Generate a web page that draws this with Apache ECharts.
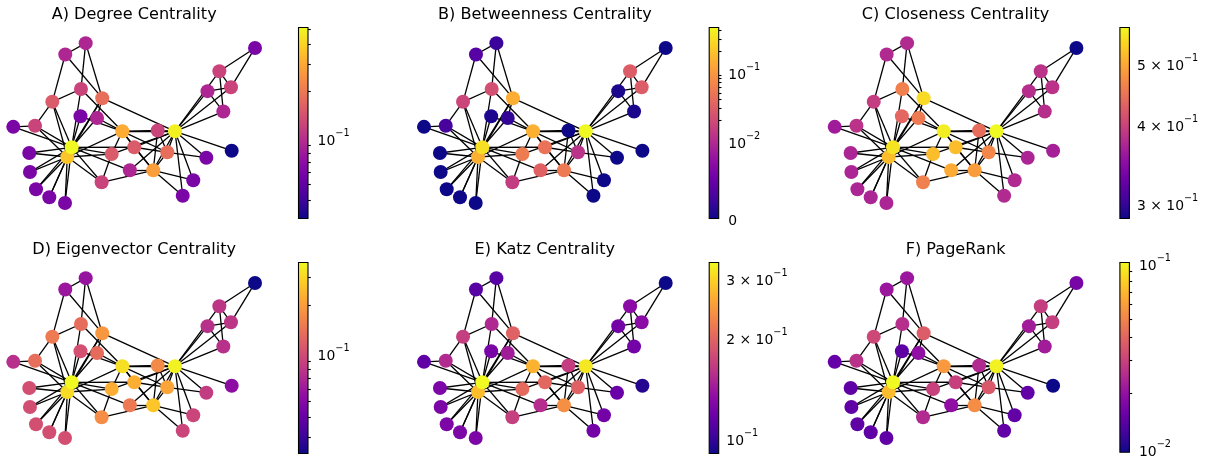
<!DOCTYPE html>
<html>
<head>
<meta charset="utf-8">
<script src="https://cdn.jsdelivr.net/npm/echarts@6/dist/echarts.min.js"></script>
<style>
  html, body { margin: 0; padding: 0; background: #fff; }
  #chart { width: 1206px; height: 459px; }
</style>
</head>
<body>
<div id="chart"></div>
<script>
// Zachary's karate club: 34 members, 78 ties, spring-layout positions
const nodeX = [0.338,0.158,-0.098,0.274,0.607,0.705,0.801,0.195,-0.186,-0.444,0.738,0.807,0.597,0.001,-0.868,-0.862,1.000,0.489,-0.812,-0.036,-0.702,0.402,-0.572,-0.677,-0.401,-0.570,-1.000,-0.440,-0.307,-0.820,-0.269,-0.264,-0.553,-0.517];
const nodeY = [-0.104,-0.591,-0.104,-0.366,0.398,0.646,0.446,-0.094,-0.388,0.084,0.143,-0.346,-0.434,-0.303,-0.375,-0.613,0.938,-0.715,-0.829,-0.591,-0.929,-0.909,-1.000,0.265,0.998,0.856,-0.048,0.425,0.063,-0.035,-0.741,0.310,-0.425,-0.304];

const edges = [
  [0,1],[0,2],[0,3],[0,4],[0,5],[0,6],[0,7],[0,8],[0,10],[0,11],[0,12],[0,13],[0,17],[0,19],[0,21],[0,31],
  [1,2],[1,3],[1,7],[1,13],[1,17],[1,19],[1,21],[1,30],
  [2,3],[2,7],[2,8],[2,9],[2,13],[2,27],[2,28],[2,32],
  [3,7],[3,12],[3,13],[4,6],[4,10],[5,6],[5,10],[5,16],[6,16],
  [8,30],[8,32],[8,33],[9,33],[13,33],[14,32],[14,33],[15,32],[15,33],
  [18,32],[18,33],[19,33],[20,32],[20,33],[22,32],[22,33],
  [23,25],[23,27],[23,29],[23,32],[23,33],[24,25],[24,27],[24,31],[25,31],
  [26,29],[26,33],[27,33],[28,31],[28,33],[29,32],[29,33],[30,32],[30,33],
  [31,32],[31,33],[32,33]
];

const panelTitles = [
  'A) Degree Centrality', 'B) Betweenness Centrality', 'C) Closeness Centrality',
  'D) Eigenvector Centrality', 'E) Katz Centrality', 'F) PageRank'
];

// centrality of each member, indexed like nodeX / nodeY
const degreeValues = [0.4848,0.2727,0.3030,0.1818,0.0909,0.1212,0.1212,0.1212,0.1515,0.0606,0.0909,0.0303,0.0606,0.1515,0.0606,0.0606,0.0606,0.0606,0.0606,0.0909,0.0606,0.0606,0.0606,0.1515,0.0909,0.0909,0.0606,0.1212,0.0909,0.1212,0.1212,0.1818,0.3636,0.5152];
const betweennessValues = [0.4376,0.0539,0.1437,0.0119,0.0006,0.0300,0.0300,0,0.0559,0.0008,0.0006,0,0,0.0459,0,0,0,0,0,0.0325,0,0,0,0.0176,0.0022,0.0038,0,0.0223,0.0018,0.0029,0.0145,0.1383,0.1452,0.3041];
const closenessValues = [0.5690,0.4853,0.5593,0.4648,0.3793,0.3837,0.3837,0.4400,0.5156,0.4342,0.3793,0.3667,0.3708,0.5156,0.3708,0.3708,0.2845,0.3750,0.3708,0.5000,0.3708,0.3750,0.3708,0.3929,0.3750,0.3750,0.3626,0.4583,0.4521,0.3837,0.4583,0.5410,0.5156,0.5500];
const eigenvectorValues = [0.3555,0.2660,0.3172,0.2112,0.0760,0.0795,0.0795,0.1710,0.2274,0.1027,0.0760,0.0529,0.0843,0.2265,0.1014,0.1014,0.0236,0.0924,0.1014,0.1479,0.1014,0.0924,0.1014,0.1501,0.0571,0.0592,0.0756,0.1335,0.1311,0.1350,0.1748,0.1910,0.3086,0.3734];
const katzValues = [0.317,0.235,0.267,0.195,0.121,0.131,0.131,0.166,0.203,0.123,0.121,0.0955,0.117,0.200,0.125,0.125,0.0901,0.121,0.125,0.155,0.125,0.121,0.125,0.167,0.111,0.111,0.113,0.151,0.143,0.152,0.168,0.195,0.277,0.334];
const pagerankValues = [0.0971,0.0529,0.0571,0.0359,0.0220,0.0291,0.0291,0.0245,0.0298,0.0143,0.0220,0.0096,0.0146,0.0295,0.0145,0.0145,0.0168,0.0146,0.0145,0.0196,0.0145,0.0146,0.0145,0.0315,0.0211,0.0210,0.0150,0.0256,0.0196,0.0263,0.0246,0.0372,0.0717,0.1009];

// colorbar ticks: labelled ticks and unlabelled minor ticks
const degreeLabelTicks = [0.1];
const degreeMinorTicks = [0.04,0.05,0.06,0.07,0.08,0.09,0.2,0.3,0.4,0.5];
const betweennessLabelTicks = [0, 0.01, 0.1];
const betweennessMinorTicks = [0.02,0.03,0.04,0.05,0.06,0.07,0.08,0.09,0.2,0.3,0.4];
const closenessLabelTicks = [0.3, 0.4, 0.5];
const closenessMinorTicks = [];
const eigenvectorLabelTicks = [0.1];
const eigenvectorMinorTicks = [0.03,0.04,0.05,0.06,0.07,0.08,0.09,0.2,0.3];
const katzLabelTicks = [0.1, 0.2, 0.3];
const katzMinorTicks = [];
const pagerankLabelTicks = [0.01, 0.1];
const pagerankMinorTicks = [0.02,0.03,0.04,0.05,0.06,0.07,0.08,0.09];

const FONT = 'DejaVu Sans';

// plasma colormap
const PLASMA = ['#0d0887','#41049d','#6a00a8','#8f0da4','#b12a90','#cc4778','#e16462','#f2844b','#fca636','#fcce25','#f0f921'];
function hexRgb(h) { return [1,3,5].map(i => parseInt(h.substr(i,2),16)); }
const PLASMA_RGB = PLASMA.map(hexRgb);
function plasma(t) {
  t = Math.max(0, Math.min(1, t));
  const s = t * (PLASMA.length - 1);
  const i = Math.min(PLASMA.length - 2, Math.floor(s));
  const f = s - i;
  const a = PLASMA_RGB[i], b = PLASMA_RGB[i+1];
  const c = a.map((v, k) => Math.round(v + (b[k] - v) * f));
  return 'rgb(' + c.join(',') + ')';
}

// colour scales: logarithmic, and symmetric log with a linear part below 0.01
const LINTHRESH = 0.01;
const scales = {
  log: v => Math.log10(v),
  symlog: v => (v <= LINTHRESH ? (v / LINTHRESH) / 0.9 : 1 / 0.9 + Math.log10(v / LINTHRESH))
};

const panels = [
  { values: degreeValues, scale: 'log', labels: degreeLabelTicks, minors: degreeMinorTicks, labelMinor: false },
  { values: betweennessValues, scale: 'symlog', labels: betweennessLabelTicks, minors: betweennessMinorTicks, labelMinor: false },
  { values: closenessValues, scale: 'log', labels: closenessLabelTicks, minors: closenessMinorTicks, labelMinor: true },
  { values: eigenvectorValues, scale: 'log', labels: eigenvectorLabelTicks, minors: eigenvectorMinorTicks, labelMinor: false },
  { values: katzValues, scale: 'log', labels: katzLabelTicks, minors: katzMinorTicks, labelMinor: true },
  { values: pagerankValues, scale: 'log', labels: pagerankLabelTicks, minors: pagerankMinorTicks, labelMinor: false }
];

// tick text such as "10⁻¹" or "3 × 10⁻¹", with the exponent as a raised rich-text run
function tickText(v) {
  if (v === 0) return '{b|0}';
  const e = Math.floor(Math.log10(v) + 1e-9);
  const m = Math.round(v / Math.pow(10, e));
  const exp = (e < 0 ? '\u2212' : '') + Math.abs(e);
  return (m === 1 ? '' : '{b|' + m + ' \u00d7 }') + '{b|10}{s|' + exp + '}';
}

// layout
const COL_DX = 410.7, ROW_DY = 235;
const G_LEFT = 1.2, G_TOP = 35, G_W = 265.9, G_H = 176;
const CB_LEFT = 298.5, CB_TOP = 27.5, CB_W = 9.5, CB_H = 191;

const grid = [], xAxis = [], yAxis = [], series = [], graphic = [];

panels.forEach((p, k) => {
  const ox = (k % 3) * COL_DX, oy = Math.floor(k / 3) * ROW_DY;
  const T = scales[p.scale];
  const vmin = Math.min(...p.values), vmax = Math.max(...p.values);
  const tmin = T(vmin), tmax = T(vmax);
  const colorOf = v => plasma((T(v) - tmin) / (tmax - tmin));

  // network panel
  const gi = grid.length;
  grid.push({ left: G_LEFT + ox, top: G_TOP + oy, width: G_W, height: G_H, containLabel: false });
  xAxis.push({ gridIndex: gi, type: 'value', min: -1.1, max: 1.1, show: false });
  yAxis.push({ gridIndex: gi, type: 'value', min: -1.1, max: 1.1, show: false });
  series.push({
    type: 'graph',
    coordinateSystem: 'cartesian2d',
    xAxisIndex: xAxis.length - 1,
    yAxisIndex: yAxis.length - 1,
    symbol: 'circle',
    symbolSize: 14,
    silent: true,
    animation: false,
    label: { show: false },
    emphasis: { disabled: true },
    lineStyle: { color: '#000', width: 1.3, opacity: 1 },
    data: nodeX.map((x, i) => ({ value: [x, nodeY[i]], itemStyle: { color: colorOf(p.values[i]), borderWidth: 0 } })),
    links: edges.map(([s, t]) => ({ source: s, target: t }))
  });

  // colorbar
  const ci = grid.length;
  grid.push({ left: CB_LEFT + ox, top: CB_TOP + oy, width: CB_W, height: CB_H, containLabel: false });
  xAxis.push({ gridIndex: ci, type: 'value', min: 0, max: 1, show: false });
  const cx = xAxis.length - 1;
  const labelVals = p.labels.map(T);
  const textMap = {};
  p.labels.forEach(v => { textMap[T(v).toFixed(6)] = tickText(v); });
  yAxis.push({
    gridIndex: ci, type: 'value', position: 'right', min: tmin, max: tmax,
    axisLine: { show: false }, splitLine: { show: false },
    axisTick: { show: true, customValues: labelVals, length: p.labelMinor ? 2.8 : 4.9, lineStyle: { color: '#000', width: 1.1 } },
    axisLabel: {
      show: true, customValues: labelVals, margin: p.labelMinor ? 7.6 : 9.6, color: '#000',
      formatter: v => textMap[v.toFixed(6)] || '',
      rich: {
        b: { fontFamily: FONT, fontSize: 13.9, color: '#000', lineHeight: 20, verticalAlign: 'bottom' },
        s: { fontFamily: FONT, fontSize: 9.7, color: '#000', lineHeight: 10, verticalAlign: 'top' }
      }
    }
  });
  const cy = yAxis.length - 1;
  yAxis.push({
    gridIndex: ci, type: 'value', position: 'right', min: tmin, max: tmax,
    axisLine: { show: false }, splitLine: { show: false }, axisLabel: { show: false },
    axisTick: { show: p.minors.length > 0, customValues: p.minors.map(T), length: 2.8, lineStyle: { color: '#000', width: 1.1 } }
  });
  series.push({
    type: 'custom',
    xAxisIndex: cx, yAxisIndex: cy,
    silent: true, animation: false,
    encode: { x: [0, 2], y: [1, 3] },
    data: [[0, tmin, 1, tmax]],
    renderItem: (params, api) => {
      const a = api.coord([0, tmax]);
      const b = api.coord([1, tmin]);
      return {
        type: 'rect',
        shape: { x: a[0], y: a[1], width: b[0] - a[0], height: b[1] - a[1] },
        style: {
          fill: new echarts.graphic.LinearGradient(0, 1, 0, 0,
            PLASMA.map((c, i) => ({ offset: i / (PLASMA.length - 1), color: c }))),
          stroke: '#000', lineWidth: 1.1
        }
      };
    }
  });

  graphic.push({
    type: 'text', x: 134.15 + ox, y: 14.5 + oy,
    style: { text: panelTitles[k], font: '16.1px "' + FONT + '"', fill: '#000', textAlign: 'center', textVerticalAlign: 'middle' }
  });
});

const chart = echarts.init(document.getElementById('chart'), null, { renderer: 'canvas' });
chart.setOption({
  animation: false,
  backgroundColor: '#fff',
  grid, xAxis, yAxis, series, graphic
});
</script>
</body>
</html>
